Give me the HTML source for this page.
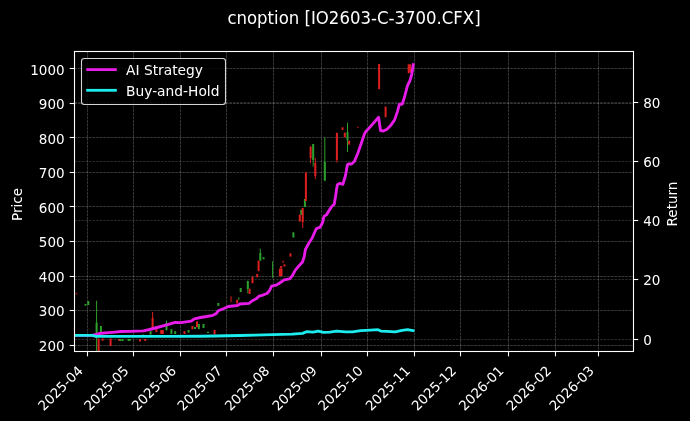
<!DOCTYPE html>
<html><head><meta charset="utf-8"><title>cnoption [IO2603-C-3700.CFX]</title>
<style>html,body{margin:0;padding:0;background:#000;width:690px;height:421px;overflow:hidden}svg{display:block;will-change:transform}</style>
</head><body>
<svg width="690" height="421" viewBox="0 0 690 421">
<rect width="690" height="421" fill="#000"/>
<line x1="87.50" y1="51.5" x2="87.50" y2="351.5" stroke="#ffffff" stroke-opacity="0.21" stroke-width="1" stroke-dasharray="2.8 0.8"/>
<line x1="133.50" y1="51.5" x2="133.50" y2="351.5" stroke="#ffffff" stroke-opacity="0.21" stroke-width="1" stroke-dasharray="2.8 0.8"/>
<line x1="180.50" y1="51.5" x2="180.50" y2="351.5" stroke="#ffffff" stroke-opacity="0.21" stroke-width="1" stroke-dasharray="2.8 0.8"/>
<line x1="226.50" y1="51.5" x2="226.50" y2="351.5" stroke="#ffffff" stroke-opacity="0.21" stroke-width="1" stroke-dasharray="2.8 0.8"/>
<line x1="273.50" y1="51.5" x2="273.50" y2="351.5" stroke="#ffffff" stroke-opacity="0.21" stroke-width="1" stroke-dasharray="2.8 0.8"/>
<line x1="321.50" y1="51.5" x2="321.50" y2="351.5" stroke="#ffffff" stroke-opacity="0.21" stroke-width="1" stroke-dasharray="2.8 0.8"/>
<line x1="367.50" y1="51.5" x2="367.50" y2="351.5" stroke="#ffffff" stroke-opacity="0.21" stroke-width="1" stroke-dasharray="2.8 0.8"/>
<line x1="414.50" y1="51.5" x2="414.50" y2="351.5" stroke="#ffffff" stroke-opacity="0.21" stroke-width="1" stroke-dasharray="2.8 0.8"/>
<line x1="460.50" y1="51.5" x2="460.50" y2="351.5" stroke="#ffffff" stroke-opacity="0.21" stroke-width="1" stroke-dasharray="2.8 0.8"/>
<line x1="508.50" y1="51.5" x2="508.50" y2="351.5" stroke="#ffffff" stroke-opacity="0.21" stroke-width="1" stroke-dasharray="2.8 0.8"/>
<line x1="555.50" y1="51.5" x2="555.50" y2="351.5" stroke="#ffffff" stroke-opacity="0.21" stroke-width="1" stroke-dasharray="2.8 0.8"/>
<line x1="598.50" y1="51.5" x2="598.50" y2="351.5" stroke="#ffffff" stroke-opacity="0.21" stroke-width="1" stroke-dasharray="2.8 0.8"/>
<line x1="74.5" y1="345.50" x2="633.5" y2="345.50" stroke="#ffffff" stroke-opacity="0.21" stroke-width="1" stroke-dasharray="2.8 0.8"/>
<line x1="74.5" y1="310.50" x2="633.5" y2="310.50" stroke="#ffffff" stroke-opacity="0.21" stroke-width="1" stroke-dasharray="2.8 0.8"/>
<line x1="74.5" y1="276.50" x2="633.5" y2="276.50" stroke="#ffffff" stroke-opacity="0.21" stroke-width="1" stroke-dasharray="2.8 0.8"/>
<line x1="74.5" y1="241.50" x2="633.5" y2="241.50" stroke="#ffffff" stroke-opacity="0.21" stroke-width="1" stroke-dasharray="2.8 0.8"/>
<line x1="74.5" y1="206.50" x2="633.5" y2="206.50" stroke="#ffffff" stroke-opacity="0.21" stroke-width="1" stroke-dasharray="2.8 0.8"/>
<line x1="74.5" y1="172.50" x2="633.5" y2="172.50" stroke="#ffffff" stroke-opacity="0.21" stroke-width="1" stroke-dasharray="2.8 0.8"/>
<line x1="74.5" y1="137.50" x2="633.5" y2="137.50" stroke="#ffffff" stroke-opacity="0.21" stroke-width="1" stroke-dasharray="2.8 0.8"/>
<line x1="74.5" y1="103.50" x2="633.5" y2="103.50" stroke="#ffffff" stroke-opacity="0.21" stroke-width="1" stroke-dasharray="2.8 0.8"/>
<line x1="74.5" y1="68.50" x2="633.5" y2="68.50" stroke="#ffffff" stroke-opacity="0.21" stroke-width="1" stroke-dasharray="2.8 0.8"/>
<line x1="74.5" y1="339.50" x2="633.5" y2="339.50" stroke="#ffffff" stroke-opacity="0.16" stroke-width="1" stroke-dasharray="2.5 1.1"/>
<line x1="74.5" y1="279.50" x2="633.5" y2="279.50" stroke="#ffffff" stroke-opacity="0.16" stroke-width="1" stroke-dasharray="2.5 1.1"/>
<line x1="74.5" y1="220.50" x2="633.5" y2="220.50" stroke="#ffffff" stroke-opacity="0.16" stroke-width="1" stroke-dasharray="2.5 1.1"/>
<line x1="74.5" y1="161.50" x2="633.5" y2="161.50" stroke="#ffffff" stroke-opacity="0.16" stroke-width="1" stroke-dasharray="2.5 1.1"/>
<line x1="74.5" y1="102.50" x2="633.5" y2="102.50" stroke="#ffffff" stroke-opacity="0.16" stroke-width="1" stroke-dasharray="2.5 1.1"/>
<g clip-path="url(#ax)">
<defs><clipPath id="ax"><rect x="74.5" y="51.5" width="559.0" height="300.0"/></clipPath></defs>
<rect x="75.40" y="292.80" width="2.0" height="1.80" fill="#7a1010"/>
<rect x="84.50" y="304.00" width="2.0" height="1.70" fill="#2ca02c"/>
<rect x="87.30" y="301.00" width="2.0" height="4.00" fill="#2ca02c"/>
<rect x="96.10" y="300.70" width="1" height="50.30" fill="#2ca02c"/>
<rect x="95.60" y="322.60" width="2.0" height="15.40" fill="#2ca02c"/>
<rect x="97.60" y="338.50" width="2.0" height="12.50" fill="#dc1f1f"/>
<rect x="99.90" y="326.00" width="2.0" height="7.00" fill="#2ca02c"/>
<rect x="101.60" y="338.50" width="2.0" height="2.20" fill="#dc1f1f"/>
<rect x="109.60" y="338.50" width="2.0" height="7.50" fill="#dc1f1f"/>
<rect x="118.30" y="339.00" width="2.0" height="2.00" fill="#dc1f1f"/>
<rect x="119.50" y="339.20" width="2.0" height="1.80" fill="#2ca02c"/>
<rect x="121.60" y="339.00" width="2.0" height="2.00" fill="#2ca02c"/>
<rect x="127.60" y="339.00" width="2.0" height="2.00" fill="#2ca02c"/>
<rect x="129.20" y="339.00" width="2.0" height="1.50" fill="#2ca02c"/>
<rect x="139.00" y="339.20" width="2.0" height="2.30" fill="#dc1f1f"/>
<rect x="142.20" y="334.60" width="2.0" height="1.40" fill="#2ca02c"/>
<rect x="144.20" y="339.00" width="2.0" height="2.00" fill="#dc1f1f"/>
<rect x="149.60" y="331.20" width="2.0" height="3.40" fill="#2ca02c"/>
<rect x="152.10" y="312.00" width="1" height="17.20" fill="#dc1f1f"/>
<rect x="151.60" y="318.00" width="2.0" height="11.20" fill="#dc1f1f"/>
<rect x="155.40" y="329.20" width="2.0" height="2.80" fill="#dc1f1f"/>
<rect x="160.20" y="330.00" width="2.0" height="3.90" fill="#dc1f1f"/>
<rect x="161.80" y="330.00" width="2.0" height="4.00" fill="#dc1f1f"/>
<rect x="166.00" y="320.60" width="1" height="10.00" fill="#2ca02c"/>
<rect x="165.50" y="323.00" width="2.0" height="7.00" fill="#2ca02c"/>
<rect x="170.40" y="329.20" width="2.0" height="4.70" fill="#2ca02c"/>
<rect x="174.20" y="331.20" width="2.0" height="2.80" fill="#2ca02c"/>
<rect x="183.50" y="331.20" width="2.0" height="2.80" fill="#dc1f1f"/>
<rect x="187.50" y="330.00" width="2.0" height="2.60" fill="#2ca02c"/>
<rect x="191.40" y="326.00" width="2.0" height="3.20" fill="#dc1f1f"/>
<rect x="194.00" y="327.00" width="2.0" height="2.00" fill="#2ca02c"/>
<rect x="196.00" y="321.40" width="2.0" height="5.90" fill="#dc1f1f"/>
<rect x="197.90" y="324.00" width="2.0" height="5.20" fill="#2ca02c"/>
<rect x="202.50" y="324.00" width="2.0" height="4.00" fill="#2ca02c"/>
<rect x="207.00" y="331.80" width="2.0" height="1.20" fill="#2ca02c"/>
<rect x="213.60" y="329.90" width="2.0" height="4.50" fill="#dc1f1f"/>
<rect x="217.30" y="303.00" width="2.0" height="2.80" fill="#2ca02c"/>
<rect x="230.10" y="296.30" width="2.0" height="5.90" fill="#7a1010"/>
<rect x="236.10" y="299.80" width="2.0" height="3.70" fill="#dc1f1f"/>
<rect x="238.30" y="297.20" width="1" height="2.80" fill="#2ca02c"/>
<rect x="239.70" y="288.00" width="2.0" height="4.00" fill="#2ca02c"/>
<rect x="247.30" y="280.60" width="1" height="12.70" fill="#2ca02c"/>
<rect x="246.80" y="281.00" width="2.0" height="8.00" fill="#2ca02c"/>
<rect x="248.60" y="288.60" width="2.0" height="5.40" fill="#dc1f1f"/>
<rect x="251.50" y="276.60" width="2.0" height="6.70" fill="#dc1f1f"/>
<rect x="256.20" y="274.00" width="2.0" height="3.30" fill="#dc1f1f"/>
<rect x="257.60" y="260.60" width="2.0" height="10.60" fill="#dc1f1f"/>
<rect x="259.80" y="248.60" width="1" height="12.00" fill="#2ca02c"/>
<rect x="259.30" y="253.00" width="2.0" height="7.60" fill="#2ca02c"/>
<rect x="262.50" y="257.30" width="2.0" height="2.00" fill="#2ca02c"/>
<rect x="272.10" y="261.30" width="1" height="16.60" fill="#2ca02c"/>
<rect x="278.90" y="268.60" width="2.0" height="7.90" fill="#dc1f1f"/>
<rect x="280.50" y="268.80" width="2.0" height="7.20" fill="#dc1f1f"/>
<rect x="280.20" y="265.90" width="2.0" height="2.70" fill="#dc1f1f"/>
<rect x="282.20" y="260.60" width="2.0" height="2.40" fill="#7a1010"/>
<rect x="283.50" y="264.30" width="2.0" height="2.20" fill="#dc1f1f"/>
<rect x="289.50" y="253.30" width="2.0" height="3.30" fill="#dc1f1f"/>
<rect x="292.40" y="232.30" width="2.0" height="5.20" fill="#2ca02c"/>
<rect x="298.80" y="214.50" width="2.0" height="7.10" fill="#dc1f1f"/>
<rect x="300.20" y="209.80" width="2.0" height="5.00" fill="#2ca02c"/>
<rect x="302.20" y="208.00" width="1" height="20.00" fill="#dc1f1f"/>
<rect x="301.70" y="208.00" width="2.0" height="14.00" fill="#dc1f1f"/>
<rect x="303.90" y="199.00" width="2.0" height="8.00" fill="#2ca02c"/>
<rect x="304.90" y="172.50" width="2.0" height="28.50" fill="#dc1f1f"/>
<rect x="310.10" y="145.90" width="1" height="17.30" fill="#dc1f1f"/>
<rect x="309.60" y="147.00" width="2.0" height="11.00" fill="#dc1f1f"/>
<rect x="312.70" y="143.90" width="1" height="22.60" fill="#2ca02c"/>
<rect x="312.20" y="144.00" width="2.0" height="16.00" fill="#2ca02c"/>
<rect x="314.80" y="157.90" width="1" height="21.10" fill="#dc1f1f"/>
<rect x="314.30" y="163.00" width="2.0" height="13.00" fill="#dc1f1f"/>
<rect x="324.30" y="137.30" width="1" height="43.40" fill="#2ca02c"/>
<rect x="323.80" y="162.00" width="2.0" height="18.70" fill="#2ca02c"/>
<rect x="336.40" y="132.60" width="1" height="30.00" fill="#dc1f1f"/>
<rect x="335.90" y="133.00" width="2.0" height="27.00" fill="#dc1f1f"/>
<rect x="341.50" y="127.30" width="2.0" height="2.70" fill="#dc1f1f"/>
<rect x="343.80" y="132.60" width="2.0" height="4.70" fill="#dc1f1f"/>
<rect x="347.00" y="122.70" width="1" height="29.30" fill="#2ca02c"/>
<rect x="346.50" y="132.00" width="2.0" height="8.00" fill="#2ca02c"/>
<rect x="348.10" y="140.60" width="2.0" height="4.00" fill="#dc1f1f"/>
<rect x="356.90" y="126.50" width="2.0" height="1.50" fill="#7a1010"/>
<rect x="378.10" y="64.00" width="2.0" height="25.20" fill="#dc1f1f"/>
<rect x="384.60" y="106.60" width="2.0" height="10.60" fill="#dc1f1f"/>
<rect x="407.70" y="64.30" width="2.0" height="8.90" fill="#dc1f1f"/>
<rect x="409.30" y="64.30" width="2.0" height="8.20" fill="#dc1f1f"/>
<polyline points="74.5,335.4 92.0,335.3 96.0,334.5 100.0,333.5 104.0,333.0 109.4,332.6 115.0,332.1 120.7,331.5 130.0,331.3 143.5,330.8 149.5,329.5 159.0,327.0 168.5,324.4 175.1,322.4 180.8,322.7 191.2,321.2 194.3,318.8 200.4,317.5 206.6,316.5 212.8,315.3 215.9,313.8 218.3,310.8 224.5,308.2 228.2,306.5 237.4,305.5 239.9,304.0 249.2,303.3 251.6,301.2 256.6,298.4 259.0,296.2 262.0,295.3 267.0,293.5 269.7,290.3 271.5,286.2 276.0,285.2 279.7,283.0 284.2,279.8 289.6,278.9 292.3,275.8 295.3,270.2 297.7,267.3 302.5,262.0 304.3,256.3 305.4,249.5 308.8,243.2 312.2,238.0 313.9,234.0 316.2,228.8 320.2,227.1 322.8,222.0 323.9,216.4 326.4,214.9 328.5,211.4 331.3,207.1 334.2,204.2 335.5,197.0 336.5,189.6 337.5,184.5 340.0,183.4 342.9,184.3 345.6,175.0 347.4,165.0 348.3,164.0 351.6,164.0 354.5,161.3 358.0,152.8 361.2,143.5 364.2,134.6 365.6,131.8 368.6,128.6 373.9,122.6 378.6,117.3 380.5,130.5 383.5,131.0 387.0,129.2 390.6,125.6 394.6,119.9 397.5,111.4 399.3,104.5 402.3,104.0 404.5,97.0 407.5,85.7 409.8,81.0 411.6,75.0 412.8,67.9 413.3,64.6" fill="none" stroke="#e81ce8" stroke-width="2.85" stroke-linejoin="round" stroke-linecap="square"/>
<polyline points="74.5,335.4 92.0,335.4 96.0,336.4 120.0,336.4 170.0,336.3 200.0,336.2 215.0,336.0 240.0,335.5 255.0,335.1 272.6,334.7 292.2,334.1 302.6,333.4 306.5,331.7 313.0,332.1 318.3,331.1 323.5,332.4 330.0,332.1 336.7,331.1 345.7,331.8 352.5,331.8 360.8,330.7 370.4,330.1 378.0,329.7 380.8,331.1 387.0,331.4 395.2,331.8 402.1,330.4 407.6,329.7 413.1,330.7" fill="none" stroke="#1ceced" stroke-width="2.85" stroke-linejoin="round" stroke-linecap="square"/>
</g>
<rect x="74.5" y="51.5" width="559.0" height="300.0" fill="none" stroke="#fff" stroke-width="1.1"/>
<line x1="87.50" y1="351.5" x2="87.50" y2="356.3" stroke="#fff" stroke-width="1.1"/>
<line x1="133.50" y1="351.5" x2="133.50" y2="356.3" stroke="#fff" stroke-width="1.1"/>
<line x1="180.50" y1="351.5" x2="180.50" y2="356.3" stroke="#fff" stroke-width="1.1"/>
<line x1="226.50" y1="351.5" x2="226.50" y2="356.3" stroke="#fff" stroke-width="1.1"/>
<line x1="273.50" y1="351.5" x2="273.50" y2="356.3" stroke="#fff" stroke-width="1.1"/>
<line x1="321.50" y1="351.5" x2="321.50" y2="356.3" stroke="#fff" stroke-width="1.1"/>
<line x1="367.50" y1="351.5" x2="367.50" y2="356.3" stroke="#fff" stroke-width="1.1"/>
<line x1="414.50" y1="351.5" x2="414.50" y2="356.3" stroke="#fff" stroke-width="1.1"/>
<line x1="460.50" y1="351.5" x2="460.50" y2="356.3" stroke="#fff" stroke-width="1.1"/>
<line x1="508.50" y1="351.5" x2="508.50" y2="356.3" stroke="#fff" stroke-width="1.1"/>
<line x1="555.50" y1="351.5" x2="555.50" y2="356.3" stroke="#fff" stroke-width="1.1"/>
<line x1="598.50" y1="351.5" x2="598.50" y2="356.3" stroke="#fff" stroke-width="1.1"/>
<line x1="69.7" y1="345.50" x2="74.5" y2="345.50" stroke="#fff" stroke-width="1.1"/>
<text x="64.6" y="351.00" text-anchor="end" style="font-family:'DejaVu Sans','Liberation Sans',sans-serif;font-size:13.5px" fill="#fff">200</text>
<line x1="69.7" y1="310.50" x2="74.5" y2="310.50" stroke="#fff" stroke-width="1.1"/>
<text x="64.6" y="316.45" text-anchor="end" style="font-family:'DejaVu Sans','Liberation Sans',sans-serif;font-size:13.5px" fill="#fff">300</text>
<line x1="69.7" y1="276.50" x2="74.5" y2="276.50" stroke="#fff" stroke-width="1.1"/>
<text x="64.6" y="281.90" text-anchor="end" style="font-family:'DejaVu Sans','Liberation Sans',sans-serif;font-size:13.5px" fill="#fff">400</text>
<line x1="69.7" y1="241.50" x2="74.5" y2="241.50" stroke="#fff" stroke-width="1.1"/>
<text x="64.6" y="247.35" text-anchor="end" style="font-family:'DejaVu Sans','Liberation Sans',sans-serif;font-size:13.5px" fill="#fff">500</text>
<line x1="69.7" y1="206.50" x2="74.5" y2="206.50" stroke="#fff" stroke-width="1.1"/>
<text x="64.6" y="212.80" text-anchor="end" style="font-family:'DejaVu Sans','Liberation Sans',sans-serif;font-size:13.5px" fill="#fff">600</text>
<line x1="69.7" y1="172.50" x2="74.5" y2="172.50" stroke="#fff" stroke-width="1.1"/>
<text x="64.6" y="178.25" text-anchor="end" style="font-family:'DejaVu Sans','Liberation Sans',sans-serif;font-size:13.5px" fill="#fff">700</text>
<line x1="69.7" y1="137.50" x2="74.5" y2="137.50" stroke="#fff" stroke-width="1.1"/>
<text x="64.6" y="143.70" text-anchor="end" style="font-family:'DejaVu Sans','Liberation Sans',sans-serif;font-size:13.5px" fill="#fff">800</text>
<line x1="69.7" y1="103.50" x2="74.5" y2="103.50" stroke="#fff" stroke-width="1.1"/>
<text x="64.6" y="109.15" text-anchor="end" style="font-family:'DejaVu Sans','Liberation Sans',sans-serif;font-size:13.5px" fill="#fff">900</text>
<line x1="69.7" y1="68.50" x2="74.5" y2="68.50" stroke="#fff" stroke-width="1.1"/>
<text x="64.6" y="74.60" text-anchor="end" style="font-family:'DejaVu Sans','Liberation Sans',sans-serif;font-size:13.5px" fill="#fff">1000</text>
<line x1="633.5" y1="339.50" x2="638.3" y2="339.50" stroke="#fff" stroke-width="1.1"/>
<text x="643.2" y="345.30" style="font-family:'DejaVu Sans','Liberation Sans',sans-serif;font-size:13.5px" fill="#fff">0</text>
<line x1="633.5" y1="279.50" x2="638.3" y2="279.50" stroke="#fff" stroke-width="1.1"/>
<text x="643.2" y="285.30" style="font-family:'DejaVu Sans','Liberation Sans',sans-serif;font-size:13.5px" fill="#fff">20</text>
<line x1="633.5" y1="220.50" x2="638.3" y2="220.50" stroke="#fff" stroke-width="1.1"/>
<text x="643.2" y="226.30" style="font-family:'DejaVu Sans','Liberation Sans',sans-serif;font-size:13.5px" fill="#fff">40</text>
<line x1="633.5" y1="161.50" x2="638.3" y2="161.50" stroke="#fff" stroke-width="1.1"/>
<text x="643.2" y="167.30" style="font-family:'DejaVu Sans','Liberation Sans',sans-serif;font-size:13.5px" fill="#fff">60</text>
<line x1="633.5" y1="102.50" x2="638.3" y2="102.50" stroke="#fff" stroke-width="1.1"/>
<text x="643.2" y="108.30" style="font-family:'DejaVu Sans','Liberation Sans',sans-serif;font-size:13.5px" fill="#fff">80</text>
<text transform="translate(83.71,371.60) rotate(-45)" text-anchor="end" style="font-family:'DejaVu Sans','Liberation Sans',sans-serif;font-size:13.5px" fill="#fff">2025-04</text>
<text transform="translate(129.62,371.60) rotate(-45)" text-anchor="end" style="font-family:'DejaVu Sans','Liberation Sans',sans-serif;font-size:13.5px" fill="#fff">2025-05</text>
<text transform="translate(177.05,371.60) rotate(-45)" text-anchor="end" style="font-family:'DejaVu Sans','Liberation Sans',sans-serif;font-size:13.5px" fill="#fff">2025-06</text>
<text transform="translate(222.96,371.60) rotate(-45)" text-anchor="end" style="font-family:'DejaVu Sans','Liberation Sans',sans-serif;font-size:13.5px" fill="#fff">2025-07</text>
<text transform="translate(270.39,371.60) rotate(-45)" text-anchor="end" style="font-family:'DejaVu Sans','Liberation Sans',sans-serif;font-size:13.5px" fill="#fff">2025-08</text>
<text transform="translate(317.83,371.60) rotate(-45)" text-anchor="end" style="font-family:'DejaVu Sans','Liberation Sans',sans-serif;font-size:13.5px" fill="#fff">2025-09</text>
<text transform="translate(363.74,371.60) rotate(-45)" text-anchor="end" style="font-family:'DejaVu Sans','Liberation Sans',sans-serif;font-size:13.5px" fill="#fff">2025-10</text>
<text transform="translate(411.17,371.60) rotate(-45)" text-anchor="end" style="font-family:'DejaVu Sans','Liberation Sans',sans-serif;font-size:13.5px" fill="#fff">2025-11</text>
<text transform="translate(457.08,371.60) rotate(-45)" text-anchor="end" style="font-family:'DejaVu Sans','Liberation Sans',sans-serif;font-size:13.5px" fill="#fff">2025-12</text>
<text transform="translate(504.51,371.60) rotate(-45)" text-anchor="end" style="font-family:'DejaVu Sans','Liberation Sans',sans-serif;font-size:13.5px" fill="#fff">2026-01</text>
<text transform="translate(551.95,371.60) rotate(-45)" text-anchor="end" style="font-family:'DejaVu Sans','Liberation Sans',sans-serif;font-size:13.5px" fill="#fff">2026-02</text>
<text transform="translate(594.80,371.60) rotate(-45)" text-anchor="end" style="font-family:'DejaVu Sans','Liberation Sans',sans-serif;font-size:13.5px" fill="#fff">2026-03</text>
<text transform="translate(21.5,204.5) rotate(-90)" text-anchor="middle" style="font-family:'DejaVu Sans','Liberation Sans',sans-serif;font-size:13.5px" fill="#fff">Price</text>
<text transform="translate(677,204) rotate(-90)" text-anchor="middle" style="font-family:'DejaVu Sans','Liberation Sans',sans-serif;font-size:13.5px" fill="#fff">Return</text>
<text transform="translate(354.0,23.9) scale(1,1.07)" text-anchor="middle" style="font-family:'DejaVu Sans','Liberation Sans',sans-serif;font-size:16.55px" fill="#fff">cnoption [IO2603-C-3700.CFX]</text>
<rect x="81.5" y="58.5" width="144" height="46" rx="2.7" fill="#000" fill-opacity="0.8" stroke="#d4d4d4" stroke-width="1.1"/>
<line x1="87.6" y1="69.6" x2="115.4" y2="69.6" stroke="#e81ce8" stroke-width="2.8" stroke-linecap="square"/>
<line x1="87.6" y1="90.3" x2="115.4" y2="90.3" stroke="#1ceced" stroke-width="2.8" stroke-linecap="square"/>
<text x="126.0" y="74.6" style="font-family:'DejaVu Sans','Liberation Sans',sans-serif;font-size:13.8px" fill="#fff">AI Strategy</text>
<text x="126.0" y="95.6" style="font-family:'DejaVu Sans','Liberation Sans',sans-serif;font-size:13.8px" fill="#fff">Buy-and-Hold</text>
</svg>
</body></html>
